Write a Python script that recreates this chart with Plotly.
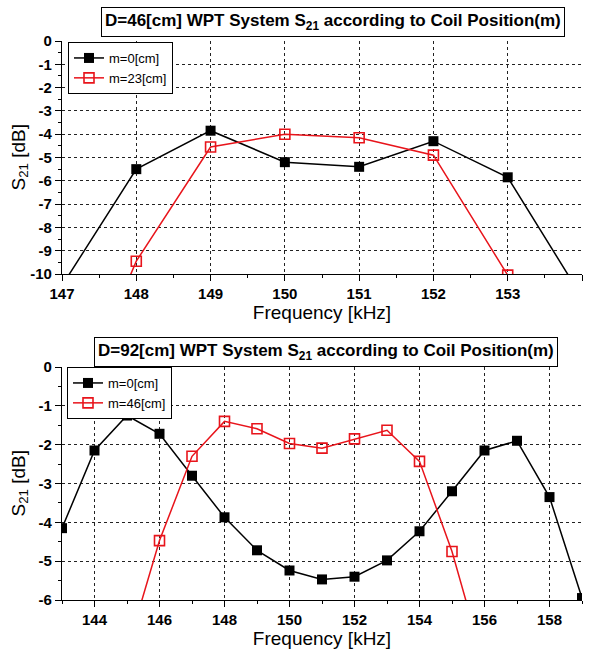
import plotly.graph_objects as go

# ---------- data ----------
freq_top = [147, 148, 149, 150, 151, 152, 153, 154]
s21_top_m0 = [-10.5, -5.5, -3.85, -5.2, -5.4, -4.3, -5.85, -11.0]
s21_top_m23 = [-17.0, -9.45, -4.55, -4.0, -4.15, -4.9, -10.05, None]

freq_bot = [143, 144, 145, 146, 147, 148, 149, 150, 151, 152, 153, 154, 155, 156, 157, 158, 159]
s21_bot_m0 = [-4.15, -2.15, -1.25, -1.72, -2.8, -3.87, -4.72, -5.24, -5.47, -5.4, -4.98, -4.23, -3.2, -2.15, -1.9, -3.35, -5.95]
s21_bot_m46 = [None, None, -7.3, -4.47, -2.3, -1.4, -1.59, -1.97, -2.09, -1.85, -1.63, -2.43, -4.75, -7.7, None, None, None]

top_title = "D=46[cm] WPT System S<sub>21</sub> according to Coil Position(m)"
bot_title = "D=92[cm] WPT System S<sub>21</sub> according to Coil Position(m)"
x_title = "Frequency [kHz]"
y_title = "S<sub>21</sub> [dB]"
names_top = ["m=0[cm]", "m=23[cm]"]
names_bot = ["m=0[cm]", "m=46[cm]"]

top_xticks = [147, 148, 149, 150, 151, 152, 153, 154]
top_xminor = [147.5, 148.5, 149.5, 150.5, 151.5, 152.5, 153.5]
top_yticks = [0, -1, -2, -3, -4, -5, -6, -7, -8, -9, -10]
top_yminor = [-0.5, -1.5, -2.5, -3.5, -4.5, -5.5, -6.5, -7.5, -8.5, -9.5]
top_xgrid = [148, 149, 150, 151, 152, 153]
top_ygrid = [-1, -2, -3, -4, -5, -6, -7, -8, -9]
bot_xticks = [144, 146, 148, 150, 152, 154, 156, 158]
bot_xminor = [143, 145, 147, 149, 151, 153, 155, 157, 159]
bot_yticks = [0, -1, -2, -3, -4, -5, -6]
bot_yminor = [-0.5, -1.5, -2.5, -3.5, -4.5, -5.5]
bot_xgrid = [144, 146, 148, 150, 152, 154, 156, 158]
bot_ygrid = [-1, -2, -3, -4, -5]

FONT = "Liberation Sans, Arial, sans-serif"
XDOM = [62 / 594, 582 / 594]
TOP_DOM = [1 - 274 / 651, 1 - 41 / 651]
BOT_DOM = [1 - 600 / 651, 1 - 367 / 651]

fig = go.Figure()

def black(x, y, name, xa, ya, legend):
    return go.Scatter(x=x, y=y, name=name, xaxis=xa, yaxis=ya, legend=legend,
                      mode="lines+markers", connectgaps=False,
                      line=dict(color="black", width=1.5),
                      marker=dict(symbol="square", size=10, color="black"))

def red(x, y, name, xa, ya, legend):
    return go.Scatter(x=x, y=y, name=name, xaxis=xa, yaxis=ya, legend=legend,
                      mode="lines+markers", connectgaps=False,
                      line=dict(color="#e8141b", width=1.5),
                      marker=dict(symbol="square-open", size=10, color="#e8141b",
                                  line=dict(width=1.6, color="#e8141b")))

for xa, ya in [("x3", "y3"), ("x4", "y4")]:
    fig.add_trace(go.Scatter(x=[None], y=[None], xaxis=xa, yaxis=ya, showlegend=False,
                             hoverinfo="skip"))

fig.add_trace(black(freq_top, s21_top_m0, names_top[0], "x", "y", "legend"))
fig.add_trace(red(freq_top, s21_top_m23, names_top[1], "x", "y", "legend"))
fig.add_trace(black(freq_bot, s21_bot_m0, names_bot[0], "x2", "y2", "legend2"))
fig.add_trace(red(freq_bot, s21_bot_m46, names_bot[1], "x2", "y2", "legend2"))

tickfont = dict(family=FONT, size=15, color="black", weight="bold")
titlefont = dict(family=FONT, size=19, color="black")

def lbl(vals):
    return [str(v) for v in vals]

def main_x(rng, ticks, minor_vals, anchor):
    return dict(domain=XDOM, range=rng, anchor=anchor, tickmode="array", tickvals=ticks,
                ticktext=lbl(ticks), showgrid=False, automargin=False,
                showline=True, linecolor="black", linewidth=1.2, ticks="outside",
                ticklen=6, tickcolor="black", tickwidth=1.2, tickfont=tickfont,
                zeroline=False, fixedrange=True,
                minor=dict(tickmode="array", tickvals=minor_vals, ticks="outside", ticklen=3,
                           tickcolor="black", tickwidth=1, showgrid=False),
                title=dict(text=x_title, font=titlefont, standoff=0))

def main_y(rng, ticks, minor_vals, anchor, dom):
    return dict(domain=dom, range=rng, anchor=anchor, tickmode="array", tickvals=ticks,
                ticktext=lbl(ticks), showgrid=False, automargin=False,
                showline=True, linecolor="black", linewidth=1.2, ticks="outside",
                ticklen=6, tickcolor="black", tickwidth=1.2, tickfont=tickfont,
                zeroline=False, fixedrange=True,
                minor=dict(tickmode="array", tickvals=minor_vals, ticks="outside", ticklen=3,
                           tickcolor="black", tickwidth=1, showgrid=False))

def grid_x(rng, vals, over, anchor):
    return dict(domain=XDOM, range=rng, overlaying=over, anchor=anchor, tickvals=vals,
                showticklabels=False, ticks="", showgrid=True, gridcolor="#222",
                griddash="dot", gridwidth=1, zeroline=False, showline=False,
                fixedrange=True, automargin=False)

def grid_y(rng, vals, over, anchor, dom):
    return dict(domain=dom, range=rng, overlaying=over, anchor=anchor, tickvals=vals,
                showticklabels=False, ticks="", showgrid=True, gridcolor="#222",
                griddash="dot", gridwidth=1, zeroline=False, showline=False,
                fixedrange=True, automargin=False)

def ytitle(dom):
    return dict(text=y_title, xref="paper", yref="paper", x=19 / 594,
                y=(dom[0] + dom[1]) / 2, xanchor="center", yanchor="middle",
                textangle=-90, showarrow=False,
                font=dict(family=FONT, size=19, color="black"))

def boxed(text, xc, yc):
    return dict(text="<b>" + text + "</b>", xref="paper", yref="paper",
                x=xc, y=yc, xanchor="center", yanchor="middle",
                showarrow=False, bordercolor="black", borderwidth=1, borderpad=3,
                bgcolor="white", font=dict(family=FONT, size=17, color="black"))

legend_style = dict(xanchor="left", yanchor="top", bgcolor="white", bordercolor="black",
                    borderwidth=1, font=dict(family=FONT, size=13, color="black"),
                    itemwidth=30, tracegroupgap=0)

fig.update_layout(
    width=594, height=651, margin=dict(l=0, r=0, t=0, b=0, autoexpand=False),
    paper_bgcolor="white", plot_bgcolor="rgba(0,0,0,0)",
    font=dict(family=FONT, color="black"),
    xaxis=main_x([147, 154], top_xticks, top_xminor, "y"),
    yaxis=main_y([-10, 0], top_yticks, top_yminor, "x", TOP_DOM),
    xaxis2=main_x([143, 159], bot_xticks, bot_xminor, "y2"),
    yaxis2=main_y([-6, 0], bot_yticks, bot_yminor, "x2", BOT_DOM),
    xaxis3=grid_x([147, 154], top_xgrid, "x", "y3"),
    yaxis3=grid_y([-10, 0], top_ygrid, "y", "x3", TOP_DOM),
    xaxis4=grid_x([143, 159], bot_xgrid, "x2", "y4"),
    yaxis4=grid_y([-6, 0], bot_ygrid, "y2", "x4", BOT_DOM),
    legend=dict(x=68 / 594, y=1 - 42 / 651, **legend_style),
    legend2=dict(x=67 / 594, y=1 - 367 / 651, **legend_style),
    annotations=[
        boxed(top_title, 333 / 594, 1 - 22 / 651),
        boxed(bot_title, 326 / 594, 1 - 352 / 651),
        ytitle(TOP_DOM),
        ytitle(BOT_DOM),
    ],
    showlegend=True,
)

fig.write_html("out.html")
